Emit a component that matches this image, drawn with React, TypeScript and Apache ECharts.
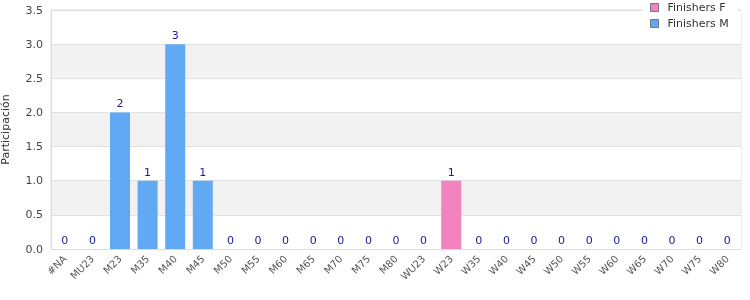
import React, { useEffect, useRef } from "react";
import * as echarts from "echarts";

const categories = ["#NA","MU23","M23","M35","M40","M45","M50","M55","M60","M65","M70","M75","M80","WU23","W23","W35","W40","W45","W50","W55","W60","W65","W70","W75","W80"];
const finishersF = [0,0,0,0,0,0,0,0,0,0,0,0,0,0,1,0,0,0,0,0,0,0,0,0,0];
const finishersM = [0,0,2,1,3,1,0,0,0,0,0,0,0,0,0,0,0,0,0,0,0,0,0,0,0];
const yTicks = { min: 0, max: 3.5, interval: 0.5 };

export default function App() {
  const ref = useRef<HTMLDivElement>(null);
  useEffect(() => {
    const chart = echarts.init(ref.current!, null, { renderer: "svg" });
    const font = "DejaVu Sans";
    chart.setOption({
      animation: false,
      textStyle: { fontFamily: font },
      grid: { left: 51, right: 9, top: 10, bottom: 51, containLabel: false, outerBoundsMode: "none", show: true, borderColor: "#ddd", borderWidth: 1, backgroundColor: "transparent" },
      legend: {
        orient: "vertical",
        left: 643,
        top: 0,
        icon: "rect",
        itemWidth: 8,
        itemHeight: 8,
        itemGap: 3,
        backgroundColor: "#fff",
        padding: [1, 9, 4, 7],
        textStyle: { fontSize: 11, color: "#333", fontFamily: font, lineHeight: 13, padding: [0, 0, 0, 4] },
        data: [
          { name: "Finishers F", itemStyle: { borderColor: "#777", borderWidth: 1 } },
          { name: "Finishers M", itemStyle: { borderColor: "#777", borderWidth: 1 } },
        ],
      },
      xAxis: {
        type: "category",
        data: categories,
        axisLine: { show: true, lineStyle: { color: "#ddd" } },
        axisTick: { show: false },
        axisLabel: { rotate: 45, color: "#555", fontSize: 10, interval: 0, margin: 8, fontFamily: font },
        splitLine: { show: false },
      },
      yAxis: {
        type: "value",
        min: yTicks.min,
        max: yTicks.max,
        interval: yTicks.interval,
        name: "Participación",
        nameLocation: "middle",
        nameGap: 40,
        nameRotate: 90,
        nameTextStyle: { fontSize: 11, color: "#333", fontFamily: font },
        axisLine: { show: true, lineStyle: { color: "#ddd" } },
        axisTick: { show: false },
        axisLabel: {
          color: "#444",
          fontSize: 11,
          fontFamily: font,
          formatter: (v: number) => v.toFixed(1),
        },
        splitLine: { show: true, lineStyle: { color: "#e0e0e0" } },
        splitArea: { show: true, areaStyle: { color: ["#ffffff", "#f2f2f2"] } },
      },
      series: [
        {
          name: "Finishers F",
          type: "bar",
          stack: "total",
          data: finishersF,
          barWidth: 20,
          itemStyle: { color: "#f283be" },
        },
        {
          name: "Finishers M",
          type: "bar",
          stack: "total",
          data: finishersM,
          barWidth: 20,
          itemStyle: { color: "#62a9f4" },
          label: {
            show: true,
            position: "top",
            color: "#1a1a99",
            fontSize: 11,
            fontFamily: font,
            distance: 3,
            formatter: (p: any) => String(finishersF[p.dataIndex] + finishersM[p.dataIndex]),
          },
        },
      ],
    });
    return () => chart.dispose();
  }, []);
  return <div ref={ref} style={{ position: "fixed", left: 0, top: 0, width: 750, height: 300 }} />;
}
